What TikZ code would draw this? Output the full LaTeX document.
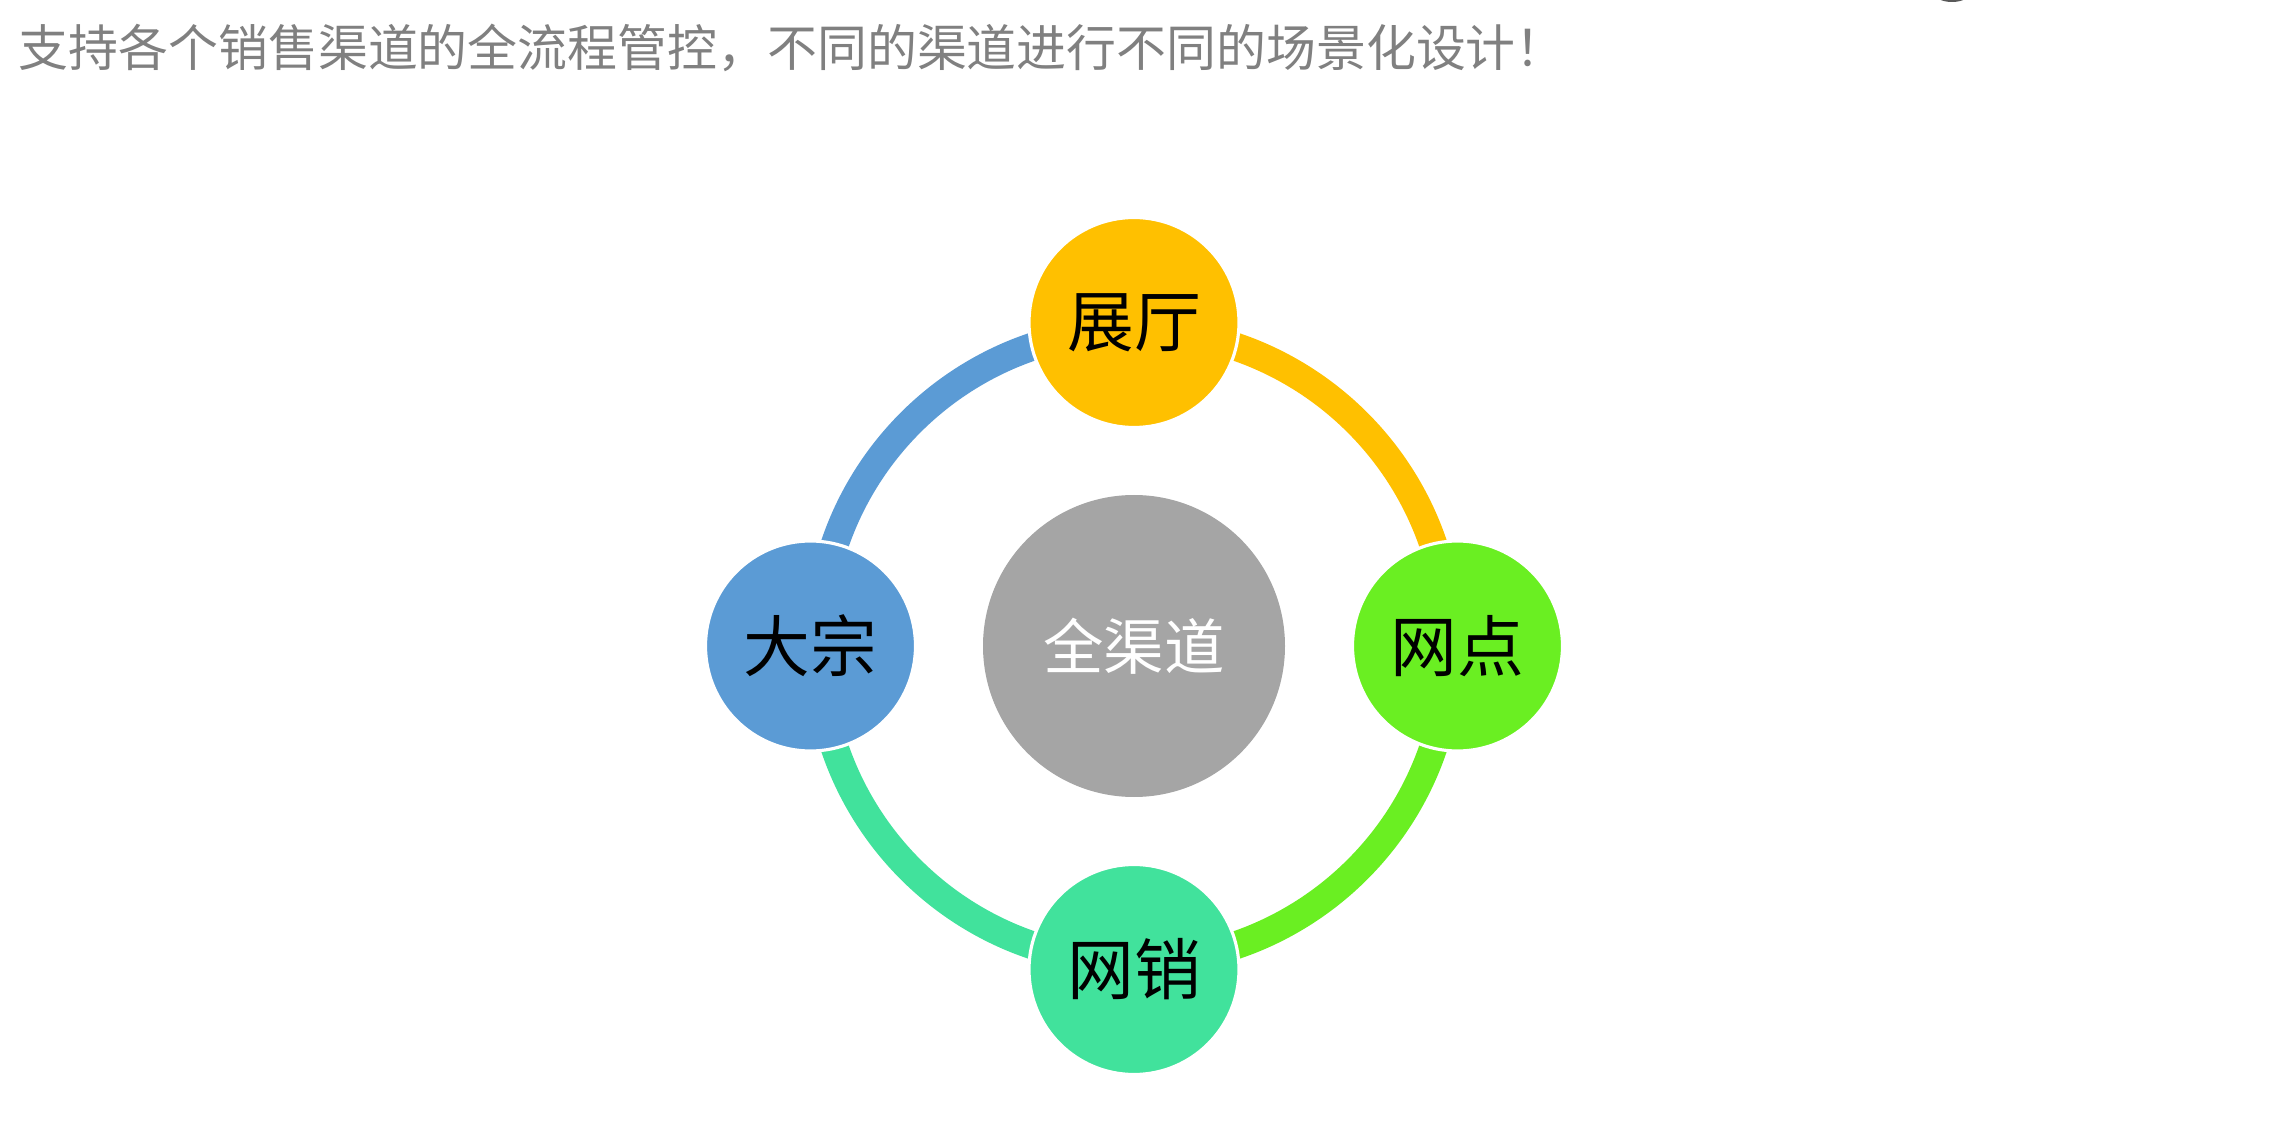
\documentclass[tikz,border=0pt]{standalone}
\usepackage{fontspec}
\newfontfamily\cjk{Noto Sans CJK SC}
\usepackage{tikz}
\definecolor{hallgold}{RGB}{255,192,0}
\definecolor{pointgreen}{RGB}{106,239,34}
\definecolor{webteal}{RGB}{65,226,156}
\definecolor{bulkblue}{RGB}{91,155,213}
\definecolor{hubgray}{RGB}{165,165,165}
\definecolor{titlegray}{RGB}{128,128,128}

\begin{document}
\begin{tikzpicture}[
		chan/.style={circle,draw=white,line width=0.9pt,minimum size=2.1cm,inner sep=0pt,font=\cjk\fontsize{19}{21}\selectfont},
		ring/.style={line width=0.28cm}
	]
			\useasboundingbox (0,0) rectangle (22.85,11.25);
			% heading
			\node[anchor=west,text=titlegray,font=\cjk\fontsize{14.2}{16}\selectfont,inner sep=0pt] (title) at (0.18,10.77) {支持各个销售渠道的全流程管控，不同的渠道进行不同的场景化设计！};
			% corner sliver
			\fill[black!65] (19.52,11.32) ellipse (0.18 and 0.09);
			% hub
			\node[circle,fill=hubgray,minimum size=3.02cm,inner sep=0pt,text=white,font=\cjk\fontsize{17.2}{19}\selectfont] (hub) at (11.34,4.79) {全渠道};
			% ring, one quarter per channel
			\draw[ring,hallgold]   ([shift={(90:3.16)}]hub.center) arc[start angle=90,end angle=0,radius=3.16];
			\draw[ring,pointgreen] ([shift={(0:3.16)}]hub.center) arc[start angle=0,end angle=-90,radius=3.16];
			\draw[ring,webteal]    ([shift={(-90:3.16)}]hub.center) arc[start angle=-90,end angle=-180,radius=3.16];
			\draw[ring,bulkblue]   ([shift={(180:3.16)}]hub.center) arc[start angle=180,end angle=90,radius=3.16];
			% channels
			\node[chan,fill=hallgold]   (hall)  at ([shift={(90:3.235)}]hub.center) {展厅};
			\node[chan,fill=pointgreen] (point) at ([shift={(0:3.235)}]hub.center) {网点};
			\node[chan,fill=webteal]    (web)   at ([shift={(-90:3.235)}]hub.center) {网销};
			\node[chan,fill=bulkblue]   (bulk)  at ([shift={(180:3.235)}]hub.center) {大宗};
		\end{tikzpicture}
\end{document}
